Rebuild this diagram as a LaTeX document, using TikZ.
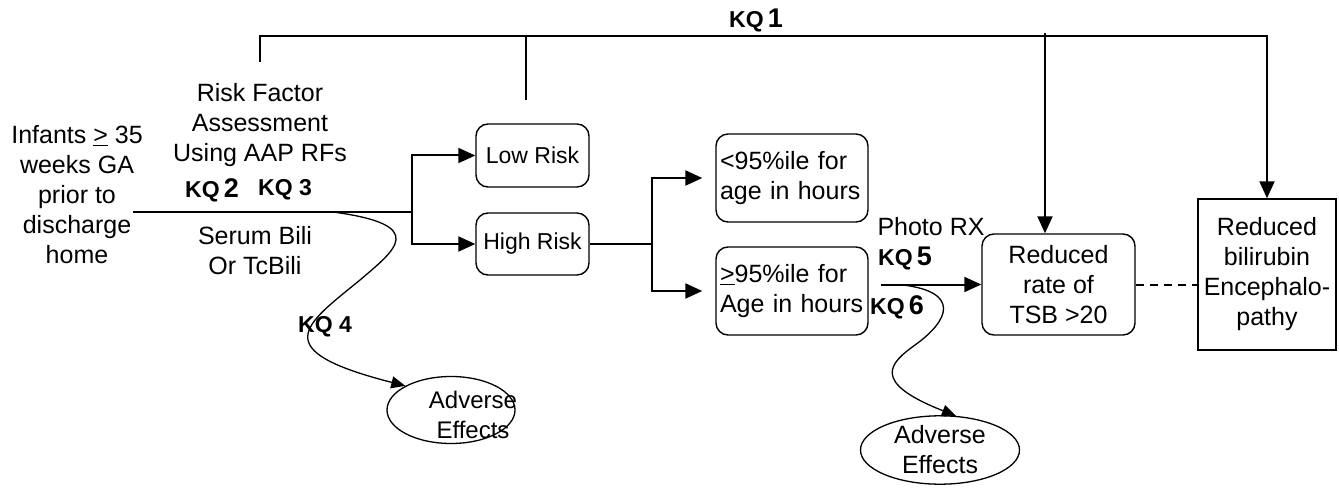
\documentclass[tikz,border=0pt]{standalone}
\usepackage{fontspec}
\setmainfont{Liberation Sans}
\usetikzlibrary{arrows.meta,shapes.geometric}
\newcommand{\mainsz}{\fontsize{25}{30}\selectfont}
\newcommand{\risksz}{\fontsize{23}{28}\selectfont}
\newcommand{\kqa}[1]{\textbf{{\fontsize{23}{26}\selectfont KQ}\,{\fontsize{27}{30}\selectfont #1}}}
\newcommand{\kqb}[1]{\textbf{\fontsize{23}{26}\selectfont KQ #1}}
\begin{document}
\begin{tikzpicture}[x=1pt, y=-1pt, font=\mainsz,
    rbox/.style={draw, rounded corners=12pt, line width=1.4pt, inner sep=2pt},
    sbox/.style={draw, line width=1.4pt, inner sep=2pt, align=center},
    oval/.style={draw, ellipse, line width=1.3pt, inner sep=0pt, align=center},
    txt/.style={align=center, inner sep=0pt},
    link/.style={line width=2pt},
    arr/.style={link, -{Triangle[length=17pt, width=15pt]}},
    wavy/.style={line width=1.3pt, -{Triangle[length=14pt, width=12pt]}}]
    % pixel grid of the 1339 x 489 layout, y grows downwards
    \useasboundingbox (0,0) rectangle (1339,489);
    \node[rbox, minimum width=113pt, minimum height=63pt, font=\risksz] (low) at (532.5,155.5) {Low Risk};
    \node[rbox, minimum width=113pt, minimum height=62pt, font=\risksz] (high) at (532.5,244) {High Risk};
    \node[rbox, text width=144pt, align=left, inner xsep=4pt, minimum height=88pt] (lowpct) at (792,178) {<95\%ile for\\age in hours};
    \node[rbox, text width=144pt, align=left, inner xsep=4pt, minimum height=88pt] (highpct) at (792,291) {\underline{>}95\%ile for\\Age in hours};
    \node[rbox, align=center, minimum width=153pt, minimum height=101pt] (tsb) at (1058.5,284.5) {Reduced\\rate of\\TSB >20};
    \node[sbox, minimum width=138pt, minimum height=151pt] (enceph) at (1267,274.5) {Reduced\\bilirubin\\Encephalo-\\pathy};
    \node[oval, minimum width=128pt, minimum height=67pt,
      label={[align=center, inner sep=0pt, xshift=22pt, yshift=-5pt, font=\fontsize{24}{30}\selectfont]center:Adverse\\Effects}] (adv1) at (451,410) {};
    \node[oval, minimum width=159pt, minimum height=65pt] (adv2) at (940,450) {Adverse\\Effects};
    \node[txt] (infants) at (77,195) {Infants \underline{>} 35\\weeks GA\\prior to\\discharge\\home};
    \node[txt] (rfa) at (260,125) {Risk Factor\\Assessment\\Using AAP RFs};
    \node[txt] (kq2) at (212,190) {\kqa{2}};
    \node[txt] (kq3) at (285,190) {\kqb{3}};
    \node[txt] (bili) at (255,251) {Serum Bili\\Or TcBili};
    \node[txt] (kq1) at (756,20) {\kqa{1}};
    \node[txt] (photo) at (931,227) {Photo RX};
    \node[txt] (kq5) at (905,258) {\kqa{5}};
    \node[txt] (kq6) at (897,307) {\kqa{6}};
    \node[txt] (kq4) at (325,327) {\kqb{4}};
    \coordinate (top) at (0,36);
    \coordinate (kqL) at (260,62);
    \coordinate (kqM) at (526,100);
    \coordinate (drop) at (1045,33);
    \coordinate (start) at (133,212);
    \coordinate (fork) at (412,212);
    \coordinate (kq4s) at (333,212);
    \coordinate (kq6s) at (903,285);
    % KQ 1 bracket
    \draw[arr] (kqL) |- (top -| enceph.north) -- (enceph.north);
    \draw[link] (kqM) -- (kqM |- top);
    \draw[arr] (drop) -- (drop |- tsb.north);
    % screening path
    \draw[link] (start) -- (fork);
    \draw[arr] (fork) |- (low.west);
    \draw[arr] (fork) |- (high.west);
    \draw[link] (high.east) -- ++(62,0) coordinate (fork2);
    \draw[arr, shorten >=13pt] (fork2) |- (lowpct.west);
    \draw[arr, shorten >=13pt] (fork2) |- (highpct.west);
    \draw[arr, shorten <=12pt] (highpct.east |- tsb.west) -- (tsb.west);
    \draw[link, dash pattern=on 8pt off 6pt] (tsb.east) -- (tsb.east -| enceph.west);
    % harms
    \draw[wavy] (kq4s) .. controls (430,225) and (395,250) .. (360,280) .. controls (305,325) and (265,350) .. (adv1.north west);
    \draw[wavy] (kq6s) .. controls (960,292) and (950,320) .. (915,345) .. controls (890,363) and (870,382) .. (adv2.65);
\end{tikzpicture}
\end{document}
